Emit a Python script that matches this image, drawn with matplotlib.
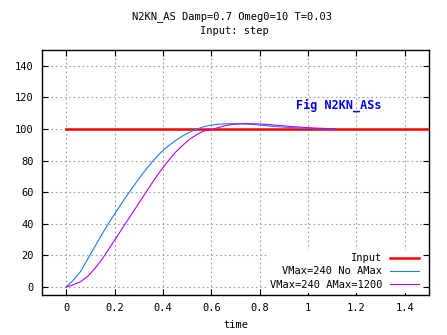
import matplotlib
matplotlib.use("Agg")
import matplotlib.pyplot as plt
import numpy as np

# Data
t = [0.00, 0.03, 0.06, 0.09, 0.12, 0.15, 0.18, 0.21, 0.24, 0.27, 0.30, 0.33, 0.36,
     0.39, 0.42, 0.45, 0.48, 0.51, 0.54, 0.57, 0.60, 0.63, 0.66, 0.69, 0.72, 0.75,
     0.78, 0.81, 0.84, 0.87, 0.90, 0.93, 0.96, 0.99, 1.02, 1.05, 1.08, 1.11]
y_noamax = [0, 4.5, 10, 18, 26, 34, 41.5, 48.5, 55.5, 62, 68.5, 74.5, 80,
            85, 89, 92.5, 95.5, 98, 100, 101.5, 102.5, 103, 103.3, 103.4, 103.3, 103.1,
            102.8, 102.4, 101.9, 101.5, 101.2, 100.9, 100.7, 100.5, 100.3, 100.2, 100.1, 100.0]
y_amax = [0, 1.5, 3.5, 7, 12, 18, 25, 32, 39, 46, 53, 60, 67,
          73.5, 79.5, 85, 89.5, 93.5, 96.5, 98.8, 99.5, 101, 102.2, 103, 103.3, 103.4,
          103.3, 103.1, 102.8, 102.4, 102, 101.6, 101.3, 101, 100.7, 100.5, 100.3, 100.2]
input_t = [0.0, 1.5]
input_y = [100, 100]
labels = ["Input", "VMax=240 No AMax", "VMax=240 AMax=1200"]
xticks = [0, 0.2, 0.4, 0.6, 0.8, 1.0, 1.2, 1.4]
xticklabels = ["0", "0.2", "0.4", "0.6", "0.8", "1", "1.2", "1.4"]
yticks = [0, 20, 40, 60, 80, 100, 120, 140]

FONT = "DejaVu Sans Mono"
FS = 7.5

fig = plt.figure(figsize=(4.47, 3.35), dpi=100)
ax = fig.add_axes([42/447, 1 - 295/335, (429 - 42)/447, (295 - 50)/335])

ax.plot(input_t, input_y, color="#ff0000", lw=1.8, label=labels[0], zorder=3)
ax.plot(t, y_noamax, color="#1e7fe8", lw=0.8, label=labels[1], zorder=4)
ax.plot(t, y_amax, color="#c000ff", lw=0.8, label=labels[2], zorder=4)

ax.set_xlim(-0.1, 1.5)
ax.set_ylim(-5, 150)
ax.set_xticks(xticks)
ax.set_xticklabels(xticklabels)
ax.set_yticks(yticks)
for lab in ax.get_xticklabels() + ax.get_yticklabels():
    lab.set_fontfamily(FONT)
    lab.set_fontsize(FS)
ax.tick_params(direction="in", length=4, width=0.8, top=True, right=True, pad=6)
ax.grid(True, color="#a0a0a0", linestyle=(0, (1.5, 2.5)), lw=0.8)
for s in ax.spines.values():
    s.set_linewidth(1.0)

ax.set_xlabel("time", fontfamily=FONT, fontsize=FS, labelpad=5)

ax.text(0.95, 114.7, "Fig N2KN_ASs", color="#0000ff", fontfamily=FONT,
        fontsize=8.5, fontweight="bold", va="center", ha="left")

leg = ax.legend(loc="lower right", bbox_to_anchor=(0.995, -0.012), markerfirst=False,
                prop={"family": FONT, "size": FS}, frameon=True, fancybox=False,
                framealpha=1, edgecolor="none", facecolor="white",
                handlelength=2.8, labelspacing=0.3, borderpad=0.3, handletextpad=0.7)

fig.text(232/447, 1 - 17/335, "N2KN_AS Damp=0.7 Omeg0=10 T=0.03", ha="center", va="center",
         fontfamily=FONT, fontsize=FS)
fig.text(234/447, 1 - 31/335, "Input: step", ha="center", va="center",
         fontfamily=FONT, fontsize=FS)

fig.savefig("out.png", dpi=100)
